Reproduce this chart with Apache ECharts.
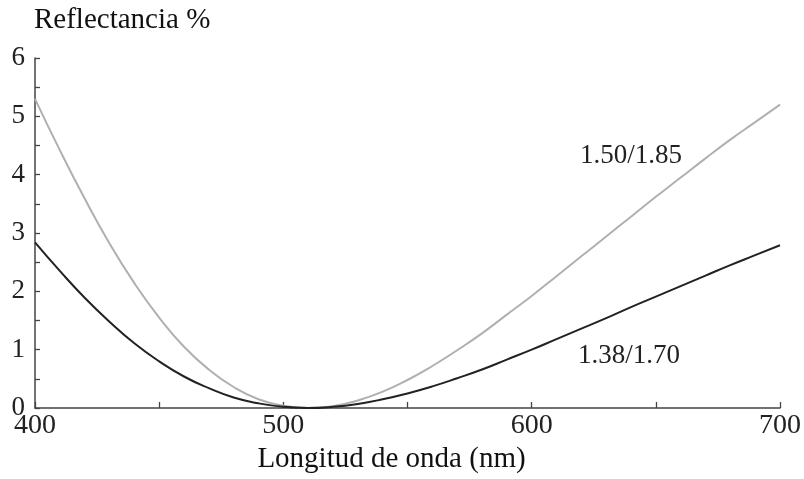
<!DOCTYPE html>
<html>
<head>
<meta charset="utf-8">
<script src="https://cdn.jsdelivr.net/npm/echarts@6/dist/echarts.min.js"></script>
<style>
  html, body { margin: 0; padding: 0; background: #fff; }
  #chart { width: 804px; height: 479px; }
</style>
</head>
<body>
<div id="chart"></div>
<script>
// longitud de onda (nm)
var wavelengths = [400, 410, 420, 430, 440, 450, 460, 470, 480, 490, 500, 510, 520, 530, 540, 550,
    560, 570, 580, 590, 600, 610, 620, 630, 640, 650, 660, 670, 680, 690, 700];
// reflectancia % , capa 1.38/1.70
var r138 = [2.84, 2.35, 1.89, 1.48, 1.11, 0.80, 0.54, 0.34, 0.18, 0.08, 0.02, 0.00, 0.02, 0.07, 0.15, 0.25,
    0.37, 0.51, 0.66, 0.83, 1.00, 1.18, 1.36, 1.54, 1.73, 1.91, 2.09, 2.27, 2.45, 2.62, 2.79];
// reflectancia % , capa 1.50/1.85
var r150 = [5.30, 4.42, 3.59, 2.82, 2.14, 1.55, 1.05, 0.66, 0.36, 0.15, 0.04, 0.00, 0.03, 0.13, 0.28, 0.48,
    0.72, 0.99, 1.28, 1.60, 1.92, 2.26, 2.60, 2.94, 3.28, 3.62, 3.95, 4.28, 4.60, 4.90, 5.20];
var xTicks = [400, 500, 600, 700];
var yTicks = [0, 1, 2, 3, 4, 5, 6];

var font = '"Liberation Serif", "DejaVu Serif", serif';

function pairs(xs, ys) {
    return xs.map(function (x, i) { return [x, ys[i]]; });
}

var myChart = echarts.init(document.getElementById('chart'));
var option = {
    animation: false,
    grid: {left: 35, right: 24, top: 58, bottom: 71},
    graphic: [
        {
            type: 'text', left: 34, top: 6,
            style: {text: 'Reflectancia %', font: '29px ' + font, fill: '#111'}
        },
        {
            type: 'text', left: 580, top: 142,
            style: {text: '1.50/1.85', font: '27px ' + font, fill: '#222'}
        },
        {
            type: 'text', left: 578, top: 342,
            style: {text: '1.38/1.70', font: '27px ' + font, fill: '#222'}
        }
    ],
    xAxis: {
        type: 'value',
        min: xTicks[0],
        max: xTicks[xTicks.length - 1],
        interval: 100,
        name: 'Longitud de onda (nm)',
        nameLocation: 'middle',
        nameGap: 36,
        nameTextStyle: {fontFamily: font, fontSize: 29, color: '#111', padding: [0, 32, 0, 0]},
        axisLine: {lineStyle: {color: '#444', width: 1.5}},
        axisTick: {show: true, inside: true, length: 6, lineStyle: {color: '#444', width: 1.3}},
        minorTick: {show: true, splitNumber: 2, length: 6, lineStyle: {color: '#444', width: 1.3}},
        axisLabel: {fontFamily: font, fontSize: 28, color: '#222', margin: 4},
        splitLine: {show: false}
    },
    yAxis: {
        type: 'value',
        min: yTicks[0],
        max: yTicks[yTicks.length - 1],
        interval: 1,
        axisLine: {show: true, lineStyle: {color: '#444', width: 1.5}},
        axisTick: {show: true, inside: true, length: 5, lineStyle: {color: '#444', width: 1.3}},
        minorTick: {show: true, splitNumber: 2, length: 5, lineStyle: {color: '#444', width: 1.3}},
        axisLabel: {fontFamily: font, fontSize: 27, color: '#222', margin: 10},
        splitLine: {show: false}
    },
    series: [
        {
            name: '1.50/1.85',
            type: 'line',
            smooth: true,
            symbol: 'none',
            lineStyle: {color: '#b0b0b0', width: 2},
            data: pairs(wavelengths, r150)
        },
        {
            name: '1.38/1.70',
            type: 'line',
            smooth: true,
            symbol: 'none',
            lineStyle: {color: '#222', width: 2},
            data: pairs(wavelengths, r138)
        }
    ]
};
myChart.setOption(option);
</script>
</body>
</html>
